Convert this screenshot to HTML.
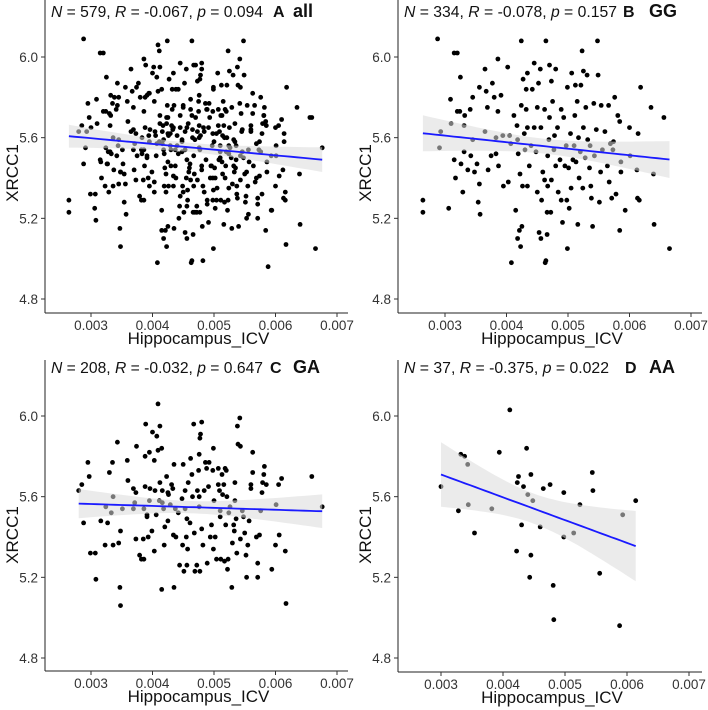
<!DOCTYPE html>
<html><head><meta charset="utf-8"><style>
html,body{margin:0;padding:0;background:#fff;}
svg{display:block;font-family:"Liberation Sans",Arial,sans-serif;}
</style></head><body>
<svg id="chart" width="708" height="710" viewBox="0 0 708 710" xmlns="http://www.w3.org/2000/svg"></svg>
<script>
// ---- data (x = Hippocampus_ICV, y = XRCC1) ----
const xTicks = [0.003, 0.004, 0.005, 0.006, 0.007];
const xTickLabels = ["0.003", "0.004", "0.005", "0.006", "0.007"];
const yTicks = [4.8, 5.2, 5.6, 6.0];
const yTickLabels = ["4.8", "5.2", "5.6", "6.0"];

const ggX = [0.00264,0.00264,0.00288,0.00291,0.00293,0.00309,0.00306,0.0031,0.00315,0.0032,0.00315,0.00317,0.0032,0.00325,0.00324,0.00326,0.00329,0.00331,0.00331,0.00332,0.00337,0.00341,0.00345,0.00345,0.00342,0.00348,0.00356,0.00352,0.00356,0.00354,0.00357,0.00365,0.00365,0.00367,0.0037,0.00369,0.00375,0.00377,0.0038,0.00383,0.00383,0.00386,0.00386,0.00387,0.00391,0.00394,0.00395,0.00402,0.00405,0.00403,0.00407,0.00412,0.00408,0.00415,0.00417,0.00418,0.00419,0.00418,0.00421,0.00422,0.00424,0.00424,0.00423,0.00425,0.00426,0.00427,0.00429,0.0043,0.00432,0.00432,0.00434,0.00434,0.00434,0.00437,0.0044,0.00442,0.00445,0.00445,0.00448,0.0045,0.0045,0.00452,0.00453,0.00456,0.00455,0.00456,0.00457,0.00459,0.00462,0.00462,0.00463,0.00464,0.00464,0.00466,0.00466,0.00467,0.00467,0.00469,0.0047,0.0047,0.00472,0.00473,0.00473,0.00475,0.00477,0.00478,0.0048,0.0048,0.00483,0.00484,0.00487,0.00489,0.00489,0.00491,0.00493,0.00495,0.00497,0.00498,0.00499,0.00499,0.00501,0.00502,0.00504,0.00505,0.00506,0.00508,0.0051,0.00511,0.00512,0.00513,0.00515,0.00516,0.00517,0.00518,0.0052,0.00521,0.00523,0.00524,0.00525,0.00525,0.00528,0.00529,0.00531,0.00532,0.00535,0.00536,0.00537,0.00538,0.0054,0.00542,0.00543,0.00546,0.00548,0.00549,0.00551,0.00553,0.00554,0.00556,0.0056,0.00564,0.00566,0.00567,0.00569,0.00571,0.00573,0.00574,0.00576,0.00578,0.00581,0.00584,0.00584,0.00586,0.00586,0.00593,0.006,0.00601,0.00612,0.00613,0.00614,0.00616,0.00618,0.00635,0.00639,0.0064,0.00656,0.00665];
const ggY = [5.29,5.23,6.09,5.55,5.63,5.79,5.25,5.67,6.02,6.02,5.49,5.40,5.73,5.90,5.73,5.47,5.33,5.66,5.53,5.71,5.44,5.74,5.80,5.59,5.51,5.43,5.85,5.47,5.37,5.28,5.22,5.94,5.63,5.83,5.44,5.75,5.51,5.87,5.80,5.60,5.52,5.99,5.73,5.46,5.81,5.61,5.36,5.95,5.61,5.38,5.57,5.71,4.98,5.24,5.66,5.59,5.52,5.10,5.14,5.42,6.08,5.76,5.06,5.16,5.36,5.89,5.62,5.54,5.84,5.74,5.92,5.36,5.65,5.46,5.56,5.84,5.65,5.97,5.53,5.33,5.75,5.87,5.13,5.10,5.94,5.65,5.29,5.43,5.74,5.39,4.98,6.08,4.99,5.12,5.23,5.51,5.36,5.59,5.96,5.70,5.23,5.39,5.88,5.78,5.54,5.61,5.94,5.46,5.65,5.33,5.49,5.74,5.29,5.18,5.70,5.46,5.56,5.29,5.85,5.05,5.45,5.25,5.62,5.35,5.92,5.49,5.56,5.71,5.86,5.48,5.78,5.17,5.60,5.40,5.53,5.86,6.03,5.35,5.93,5.65,5.50,5.75,5.91,5.59,5.45,5.56,5.36,5.30,5.16,5.77,5.51,5.64,6.08,5.91,5.28,5.43,5.76,5.54,5.63,5.46,5.76,5.38,5.57,5.30,5.54,5.58,5.80,5.32,5.71,5.68,5.14,5.43,5.48,5.24,5.65,5.51,5.44,5.30,5.62,5.29,5.85,5.75,5.42,5.17,5.70,5.05];

const gaX = [0.0028,0.00285,0.00288,0.00295,0.00297,0.00299,0.00307,0.00308,0.00316,0.00323,0.00324,0.00327,0.0033,0.00333,0.00335,0.00336,0.00336,0.00343,0.00345,0.00347,0.00348,0.00348,0.00351,0.00359,0.0036,0.00369,0.00369,0.00371,0.00373,0.00373,0.00374,0.00379,0.00382,0.00385,0.00386,0.00386,0.00388,0.00389,0.00388,0.00391,0.00391,0.00393,0.00395,0.00395,0.00396,0.00399,0.004,0.00403,0.00403,0.00404,0.00406,0.00407,0.00409,0.00409,0.00411,0.00412,0.00412,0.00415,0.00415,0.00416,0.00416,0.00418,0.00419,0.0042,0.00423,0.00425,0.00425,0.00426,0.00429,0.00431,0.00433,0.00434,0.00435,0.00435,0.00437,0.00438,0.00442,0.00444,0.00448,0.00449,0.0045,0.00451,0.00453,0.00453,0.00455,0.00456,0.00456,0.00457,0.00458,0.00461,0.00462,0.00464,0.00465,0.00467,0.00468,0.00469,0.00472,0.00473,0.00475,0.00476,0.00476,0.00476,0.00477,0.00477,0.00478,0.0048,0.0048,0.00482,0.00484,0.00486,0.00488,0.00489,0.00491,0.00492,0.00494,0.00496,0.00498,0.00499,0.00499,0.005,0.00502,0.00504,0.00507,0.00507,0.00509,0.0051,0.0051,0.00511,0.00513,0.00514,0.00516,0.00517,0.00518,0.00519,0.0052,0.00521,0.00522,0.00523,0.00524,0.00526,0.00529,0.0053,0.00532,0.00533,0.00534,0.00534,0.00536,0.00537,0.00538,0.00539,0.00542,0.00543,0.00543,0.00546,0.00548,0.0055,0.00552,0.00553,0.00555,0.00557,0.0056,0.0056,0.00563,0.00563,0.00569,0.00571,0.00571,0.00574,0.00576,0.00578,0.00579,0.00581,0.00582,0.00585,0.00594,0.006,0.00601,0.00605,0.00606,0.0061,0.00616,0.00617,0.00659,0.00676];
const gaY = [5.63,5.66,5.47,5.77,5.70,5.32,5.32,5.19,5.48,5.36,5.55,5.47,5.72,5.52,5.77,5.60,5.36,5.87,5.37,5.15,5.06,5.43,5.54,5.78,5.68,5.64,5.54,5.57,5.62,5.39,5.85,5.31,5.29,5.39,5.54,5.29,5.80,5.96,5.65,5.50,5.51,5.40,5.58,5.82,5.64,5.43,5.92,5.78,5.33,5.63,5.51,5.90,6.06,5.83,5.58,5.95,5.67,5.14,5.84,5.63,5.57,5.54,5.36,5.45,5.70,5.62,5.48,5.61,5.56,5.66,5.64,5.41,5.76,5.15,5.54,5.40,5.52,5.26,5.59,5.36,5.76,5.23,5.63,5.54,5.40,5.26,5.49,5.34,5.67,5.47,5.79,5.71,5.60,5.96,5.42,5.23,5.26,5.63,5.73,5.81,5.55,5.60,5.89,5.23,5.91,5.97,5.44,5.36,5.63,5.77,5.74,5.27,5.65,5.77,5.40,5.46,5.73,5.84,5.34,5.58,5.40,5.29,5.74,5.66,5.63,5.50,5.53,5.29,5.71,5.61,5.66,5.28,5.74,5.46,5.73,5.60,5.24,5.29,5.52,5.55,5.15,5.37,5.46,5.43,5.67,5.58,5.49,5.32,5.95,5.86,5.99,5.85,5.39,5.53,5.50,5.42,5.31,5.20,5.36,5.48,5.66,5.64,5.82,5.72,5.40,5.27,5.20,5.41,5.53,5.62,5.67,5.71,5.75,5.66,5.24,5.36,5.56,5.66,5.41,5.69,5.33,5.07,5.70,5.55];

const aaX = [0.003,0.00328,0.00332,0.00338,0.00343,0.00344,0.00354,0.00382,0.00394,0.00411,0.00422,0.00423,0.00425,0.0043,0.00433,0.00438,0.0044,0.00443,0.00445,0.00445,0.00448,0.0046,0.00465,0.00476,0.00481,0.00482,0.00498,0.00498,0.00514,0.00524,0.00544,0.00545,0.00556,0.00588,0.00593,0.00614];
const aaY = [5.65,5.53,5.81,5.80,5.76,5.56,5.42,5.54,5.82,6.03,5.33,5.67,5.70,5.46,5.65,5.84,5.61,5.20,5.31,5.71,5.58,5.45,5.64,5.66,5.16,4.99,5.40,5.62,5.42,5.56,5.72,5.63,5.22,4.96,5.51,5.58];

// "all" = union of the three genotype groups
const allX = ggX.concat(gaX, aaX);
const allY = ggY.concat(gaY, aaY);

const panelStats = ["N = 579, R = -0.067, p = 0.094","N = 334, R = -0.078, p = 0.157","N = 208, R = -0.032, p = 0.647","N = 37, R = -0.375, p = 0.022"];

// ---- layout (pixel geometry per panel) ----
const panels = [
 {key:"all", letter:"A", label:"all", xs:allX, ys:allY, stat:panelStats[0], ax:45, bottom:313, top:0, right:348, x3:91, x7:337, y60:57, y48:299, sx:51, sw:212, lx:273, gx:293},
 {key:"gg", letter:"B", label:"GG", xs:ggX, ys:ggY, stat:panelStats[1], ax:398, bottom:313, top:0, right:702, x3:445, x7:691, y60:57, y48:299, sx:404, sw:213, lx:623, gx:649},
 {key:"ga", letter:"C", label:"GA", xs:gaX, ys:gaY, stat:panelStats[2], ax:45, bottom:671, top:360, right:348, x3:91, x7:337, y60:416, y48:658, sx:51, sw:212, lx:270, gx:293},
 {key:"aa", letter:"D", label:"AA", xs:aaX, ys:aaY, stat:panelStats[3], ax:398, bottom:672, top:360, right:702, x3:441, x7:689, y60:416, y48:658, sx:404, sw:205, lx:625, gx:649}
];

const NS = "http://www.w3.org/2000/svg";
const svg = document.getElementById("chart");
function mk(tag, attrs, parent){const e=document.createElementNS(NS,tag);for(const k in attrs)e.setAttribute(k,attrs[k]);(parent||svg).appendChild(e);return e;}

panels.forEach(p=>{
  const g = mk("g",{});
  
  
  const sx = v => p.x3 + (v-0.003)/0.004*(p.x7-p.x3);
  const sy = v => p.y60 + (6.0-v)/1.2*(p.y48-p.y60);

  // points
  const pts = mk("g",{},g);
  
  
  for(let i=0;i<p.xs.length;i++){
    const c = mk("circle",{cx:sx(p.xs[i]).toFixed(1),cy:sy(p.ys[i]).toFixed(1),r:2.4,fill:"#000"},pts);
    
    
  }

  // linear fit + 95% CI
  const n=p.xs.length; let mx=0,my=0; for(let i=0;i<n;i++){mx+=p.xs[i];my+=p.ys[i];} mx/=n; my/=n;
  let sxx=0,sxy=0; for(let i=0;i<n;i++){sxx+=(p.xs[i]-mx)**2; sxy+=(p.xs[i]-mx)*(p.ys[i]-my);}
  const b=sxy/sxx, a=my-b*mx;
  let sse=0; for(let i=0;i<n;i++){sse+=(p.ys[i]-a-b*p.xs[i])**2;}
  const s=Math.sqrt(sse/(n-2)); const t = n>40?1.97:2.03;
  const xmin=Math.min(...p.xs), xmax=Math.max(...p.xs);
  const up=[],lo=[],ln=[];
  for(let k=0;k<=40;k++){
    const x=xmin+(xmax-xmin)*k/40, f=a+b*x, se=s*Math.sqrt(1/n+(x-mx)**2/sxx);
    up.push(sx(x).toFixed(1)+","+sy(f+t*se).toFixed(1));
    lo.unshift(sx(x).toFixed(1)+","+sy(f-t*se).toFixed(1));
    ln.push(sx(x).toFixed(1)+","+sy(f).toFixed(1));
  }
  const band = mk("polygon",{points:up.concat(lo).join(" "),fill:"rgb(218,218,218)","fill-opacity":0.55,stroke:"none"},g);
  
  
  const line = mk("polyline",{points:ln.join(" "),fill:"none",stroke:"#1a1aff","stroke-width":1.8},g);
  
  

  // axes
  const ya = mk("line",{x1:p.ax,y1:p.top,x2:p.ax,y2:p.bottom,stroke:"#222","stroke-width":1},g);
  
  
  const xa = mk("line",{x1:p.ax,y1:p.bottom,x2:p.right,y2:p.bottom,stroke:"#222","stroke-width":1},g);
  
  
  xTicks.forEach((v,i)=>{
    const x=sx(v);
    const tk = mk("line",{x1:x,y1:p.bottom,x2:x,y2:p.bottom+4,stroke:"#333"},g);
    
    
    const tl = mk("text",{x:x,y:p.bottom+17,"text-anchor":"middle","font-size":13.5,fill:"#333"},g);
    tl.textContent = xTickLabels[i];
    
    
  });
  yTicks.forEach((v,i)=>{
    const y=sy(v);
    const tk = mk("line",{x1:p.ax-4,y1:y,x2:p.ax,y2:y,stroke:"#333"},g);
    
    
    const tl = mk("text",{x:p.ax-7,y:y+5,"text-anchor":"end","font-size":13.5,fill:"#333"},g);
    tl.textContent = yTickLabels[i];
    
    
  });
  const xt = mk("text",{x:(p.ax+p.right)/2+2,y:p.bottom+31,"text-anchor":"middle","font-size":17,fill:"#111"},g);
  xt.textContent="Hippocampus_ICV";
  
  
  const cy=(p.y60+p.y48)/2+ (p.top?3:0) - 5;
  const yt = mk("text",{x:0,y:0,"text-anchor":"middle","font-size":17,fill:"#111",transform:`translate(${p.ax-27},${cy}) rotate(-90)`},g);
  yt.textContent="XRCC1";
  
  

  // header
  const st = mk("text",{x:p.sx,y:p.top+(p.top?13:17),"font-size":16,fill:"#111",textLength:p.sw,lengthAdjust:"spacingAndGlyphs"},g);
  const parts = p.stat.split(/(N|R|p)(?= =)/);
  parts.forEach(s=>{ if(!s)return; const ts=mk("tspan",{},st); if(s==="N"||s==="R"||s==="p") ts.setAttribute("font-style","italic"); ts.textContent=s; });
  
  
  const lt = mk("text",{x:p.lx,y:p.top+(p.top?13:17),"font-size":16,"font-weight":"bold",fill:"#111"},g);
  lt.textContent=p.letter;
  
  
  const gt = mk("text",{x:p.gx,y:p.top+(p.top?13:17),"font-size":18,"font-weight":"bold",fill:"#111"},g);
  gt.textContent=p.label;
  
  
});
</script>
</body></html>
